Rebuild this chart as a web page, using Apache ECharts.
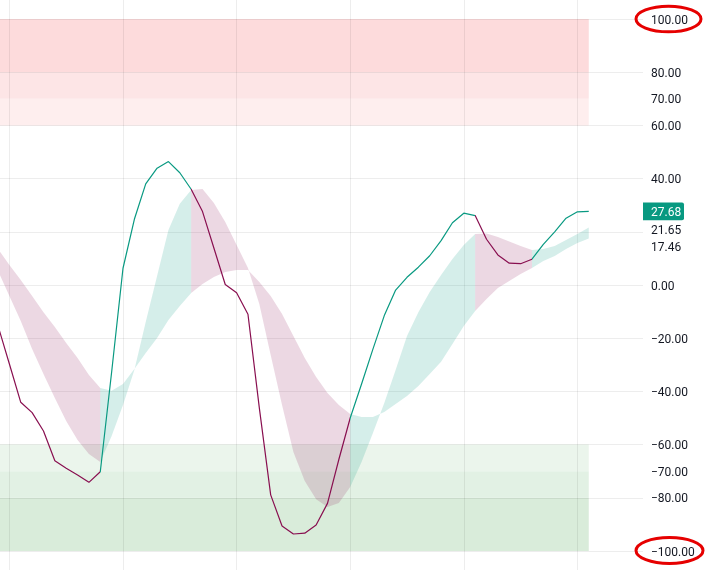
<!DOCTYPE html>
<html><head><meta charset="utf-8">
<script src="https://cdn.jsdelivr.net/npm/echarts@6/dist/echarts.min.js"></script>
<style>html,body{margin:0;padding:0;background:#fff}#c{width:705px;height:570px}</style>
</head><body><div id="c"></div>
<script>
// ---- data (bar index starts at firstBar, one value per bar) ----
const firstBar = -1;
const mainVals = [-15.4, -29.7, -44.1, -48.0, -54.9, -66.1, -68.9, -71.4, -74.2, -70.2,
  -32.7, 6.3, 24.7, 38.0, 43.9, 46.4, 42.2, 36.0, 27.6, 13.9,
  0.2, -2.9, -11.0, -46.2, -78.9, -90.6, -93.6, -93.3, -90.2, -82.1,
  -65.6, -50.0, -37.2, -24.1, -11.5, -1.9, 2.9, 6.7, 11.0, 16.7,
  23.4, 27.0, 26.1, 17.2, 11.3, 8.2, 8.0, 9.7, 15.3, 20.0,
  25.1, 27.5, 27.68];
const fastVals = [5.3, -4.1, -13.5, -24.1, -33.5, -42.5, -51.1, -58.3, -63.5, -66.5,
  -56.8, -45.1, -32.0, -13.9, 3.4, 20.7, 30.5, 35.7, 36.1, 30.8,
  23.7, 15.0, 6.4, -7.1, -26.3, -45.1, -62.8, -73.7, -80.5, -83.5,
  -82.0, -75.9, -66.5, -55.6, -44.4, -32.0, -19.2, -10.2, -2.6, 3.8,
  9.8, 15.0, 19.2, 19.4, 18.0, 16.4, 14.7, 13.2, 13.5, 14.7,
  16.9, 19.2, 21.65];
const slowVals = [13.5, 7.5, 1.9, -4.1, -10.2, -15.8, -21.8, -27.4, -33.8, -38.7,
  -39.8, -37.2, -31.6, -25.6, -19.9, -13.2, -7.9, -3.0, 0.4, 3.0,
  4.9, 5.6, 5.6, 1.1, -4.1, -10.9, -19.2, -27.4, -34.6, -40.6,
  -45.1, -48.5, -49.6, -49.6, -47.7, -44.7, -41.7, -38.0, -33.5, -28.9,
  -22.2, -15.4, -9.8, -5.3, -1.1, 1.5, 4.1, 6.4, 9.0, 10.9,
  13.5, 15.8, 17.46];
// bars where the trend colour flips (starts "down")
const turnBars = [8, 16, 30, 41, 46];
// axis
const yTickLabels = [100, 80, 70, 60, 40, 0, -20, -40, -60, -70, -80, -100];
const gridLevels = [100, 80, 60, 40, 20, 0, -20, -40, -60, -80, -100];
const gridBars = [0, 10, 20, 30, 40, 50];
const obLevels = [60, 70, 80, 100];
const osLevels = [-60, -70, -80, -100];

// ---- styling / layout ----
const TEAL = '#089981', MAROON = '#880e4f';
const TEAL_A = 'rgba(8,153,129,0.17)', MAROON_A = 'rgba(136,14,79,0.16)';
const FONT = 'Roboto, "Liberation Sans", sans-serif';
const W = 705, H = 570, RIGHT = 62;
const BAR_PX = 11.36, BAR0_PX = 9.4;
const TEXT_DY = 1.6;
const plotW = W - RIGHT;
const xMin = -BAR0_PX / BAR_PX, xMax = xMin + plotW / BAR_PX;
const yMax = 100 + 19 / 2.66, yMin = -yMax;

const xs = mainVals.map((_, i) => firstBar + i);
const lastBar = xs[xs.length - 1];

const edges = [-Infinity, ...turnBars, Infinity];
const pieces = [];
for (let i = 0; i < edges.length - 1; i++) {
  const p = { color: i % 2 === 0 ? MAROON : TEAL };
  if (edges[i] !== -Infinity) p.gt = edges[i];
  if (edges[i + 1] !== Infinity) p.lte = edges[i + 1];
  pieces.push(p);
}
// ribbon runs: [startBar, endBar, up?]
const runEdges = [firstBar, ...turnBars, lastBar];
const runs = [];
for (let i = 0; i < runEdges.length - 1; i++) runs.push([runEdges[i], runEdges[i + 1], i % 2]);

const obColors = ['#feeeee', '#fde5e6', '#fddbdc'];
const osColors = ['#ebf5ec', '#e2f1e4', '#d9ecda'];
const bandData = [];
for (let i = 0; i < 3; i++) {
  bandData.push([{ xAxis: xMin, yAxis: obLevels[i], itemStyle: { color: obColors[i] } }, { xAxis: lastBar, yAxis: obLevels[i + 1] }]);
  bandData.push([{ xAxis: xMin, yAxis: osLevels[i], itemStyle: { color: osColors[i] } }, { xAxis: lastBar, yAxis: osLevels[i + 1] }]);
}

const chart = echarts.init(document.getElementById('c'), null, { renderer: 'canvas' });
const fmt = v => '{t|' + (v < 0 ? '\u2212' : '') + Math.abs(v).toFixed(2) + '}';

function renderRibbon(params, api) {
  const s = api.value(0), e = api.value(1), up = api.value(2);
  const pts = [];
  for (let b = s; b <= e; b++) pts.push(api.coord([b, fastVals[b - firstBar]]));
  for (let b = e; b >= s; b--) pts.push(api.coord([b, slowVals[b - firstBar]]));
  return { type: 'polygon', shape: { points: pts }, style: { fill: up ? TEAL_A : MAROON_A } };
}

chart.setOption({
  animation: false,
  backgroundColor: '#ffffff',
  grid: { left: 0, right: RIGHT, top: 0, bottom: 0, containLabel: false },
  xAxis: { type: 'value', min: xMin, max: xMax, show: false, splitLine: { show: false } },
  yAxis: {
    type: 'value', position: 'right', min: yMin, max: yMax,
    axisLine: { show: false }, axisTick: { show: false }, splitLine: { show: false },
    axisLabel: {
      customValues: yTickLabels, formatter: fmt, color: '#131722',
      fontSize: 12, fontFamily: FONT, margin: 8, align: 'left',
      rich: { t: { color: '#131722', fontSize: 12, fontFamily: FONT, padding: [TEXT_DY * 2, 0, 0, 0] } }
    }
  },
  visualMap: { type: 'piecewise', show: false, dimension: 0, seriesIndex: 3, pieces: pieces },
  series: [
    {
      name: 'bands', type: 'line', data: [], z: 0, silent: true,
      markArea: { silent: true, z: 0, data: bandData }
    },
    {
      name: 'grid', type: 'line', data: [], z: 1, silent: true,
      markLine: {
        silent: true, z: 1, symbol: ['none', 'none'], label: { show: false },
        lineStyle: { color: 'rgba(0,0,0,0.07)', width: 1, type: 'solid' },
        data: gridLevels.map(v => ({ yAxis: v })).concat(gridBars.map(b => ({ xAxis: b })))
      }
    },
    {
      name: 'ribbon', type: 'custom', z: 2, silent: true,
      data: runs, encode: { x: [0, 1] }, renderItem: renderRibbon
    },
    {
      name: 'main', type: 'line', z: 3,
      data: xs.map((x, i) => [x, mainVals[i]]), symbol: 'none', silent: true,
      lineStyle: { width: 1.2 }
    }
  ]
});

// last-value labels on the price scale
const lastMain = mainVals[mainVals.length - 1];
const lastFast = fastVals[fastVals.length - 1];
const lastSlow = slowVals[slowVals.length - 1];
const yM = chart.convertToPixel({ yAxisIndex: 0 }, lastMain);
const others = [lastFast, lastSlow].sort((a, b) => b - a);
let prev = yM, gap = 17.9;
const textEls = [];
others.forEach((v) => {
  const y = Math.max(chart.convertToPixel({ yAxisIndex: 0 }, v), prev + gap);
  prev = y; gap = 16.7;
  textEls.push({ type: 'text', z: 10, style: { x: plotW + 8, y: y + TEXT_DY, text: v.toFixed(2), fill: '#131722', font: '12px ' + FONT, verticalAlign: 'middle', align: 'left' } });
});

chart.setOption({
  graphic: [
    { type: 'rect', z: 10, shape: { x: plotW, y: yM - 8.8, width: 41, height: 17.6, r: [0, 2, 2, 0] }, style: { fill: TEAL } },
    { type: 'text', z: 11, style: { x: plotW + 8, y: yM + TEXT_DY, text: lastMain.toFixed(2), fill: '#ffffff', font: '12px ' + FONT, verticalAlign: 'middle', align: 'left' } },
    ...textEls,
    { type: 'ellipse', z: 12, shape: { cx: 668.5, cy: 19, rx: 32.5, ry: 12.8 }, style: { fill: 'none', stroke: '#e60000', lineWidth: 3 } },
    { type: 'ellipse', z: 12, shape: { cx: 669.5, cy: 550.5, rx: 33.5, ry: 13 }, style: { fill: 'none', stroke: '#e60000', lineWidth: 3 } }
  ]
});
</script>
</body></html>
